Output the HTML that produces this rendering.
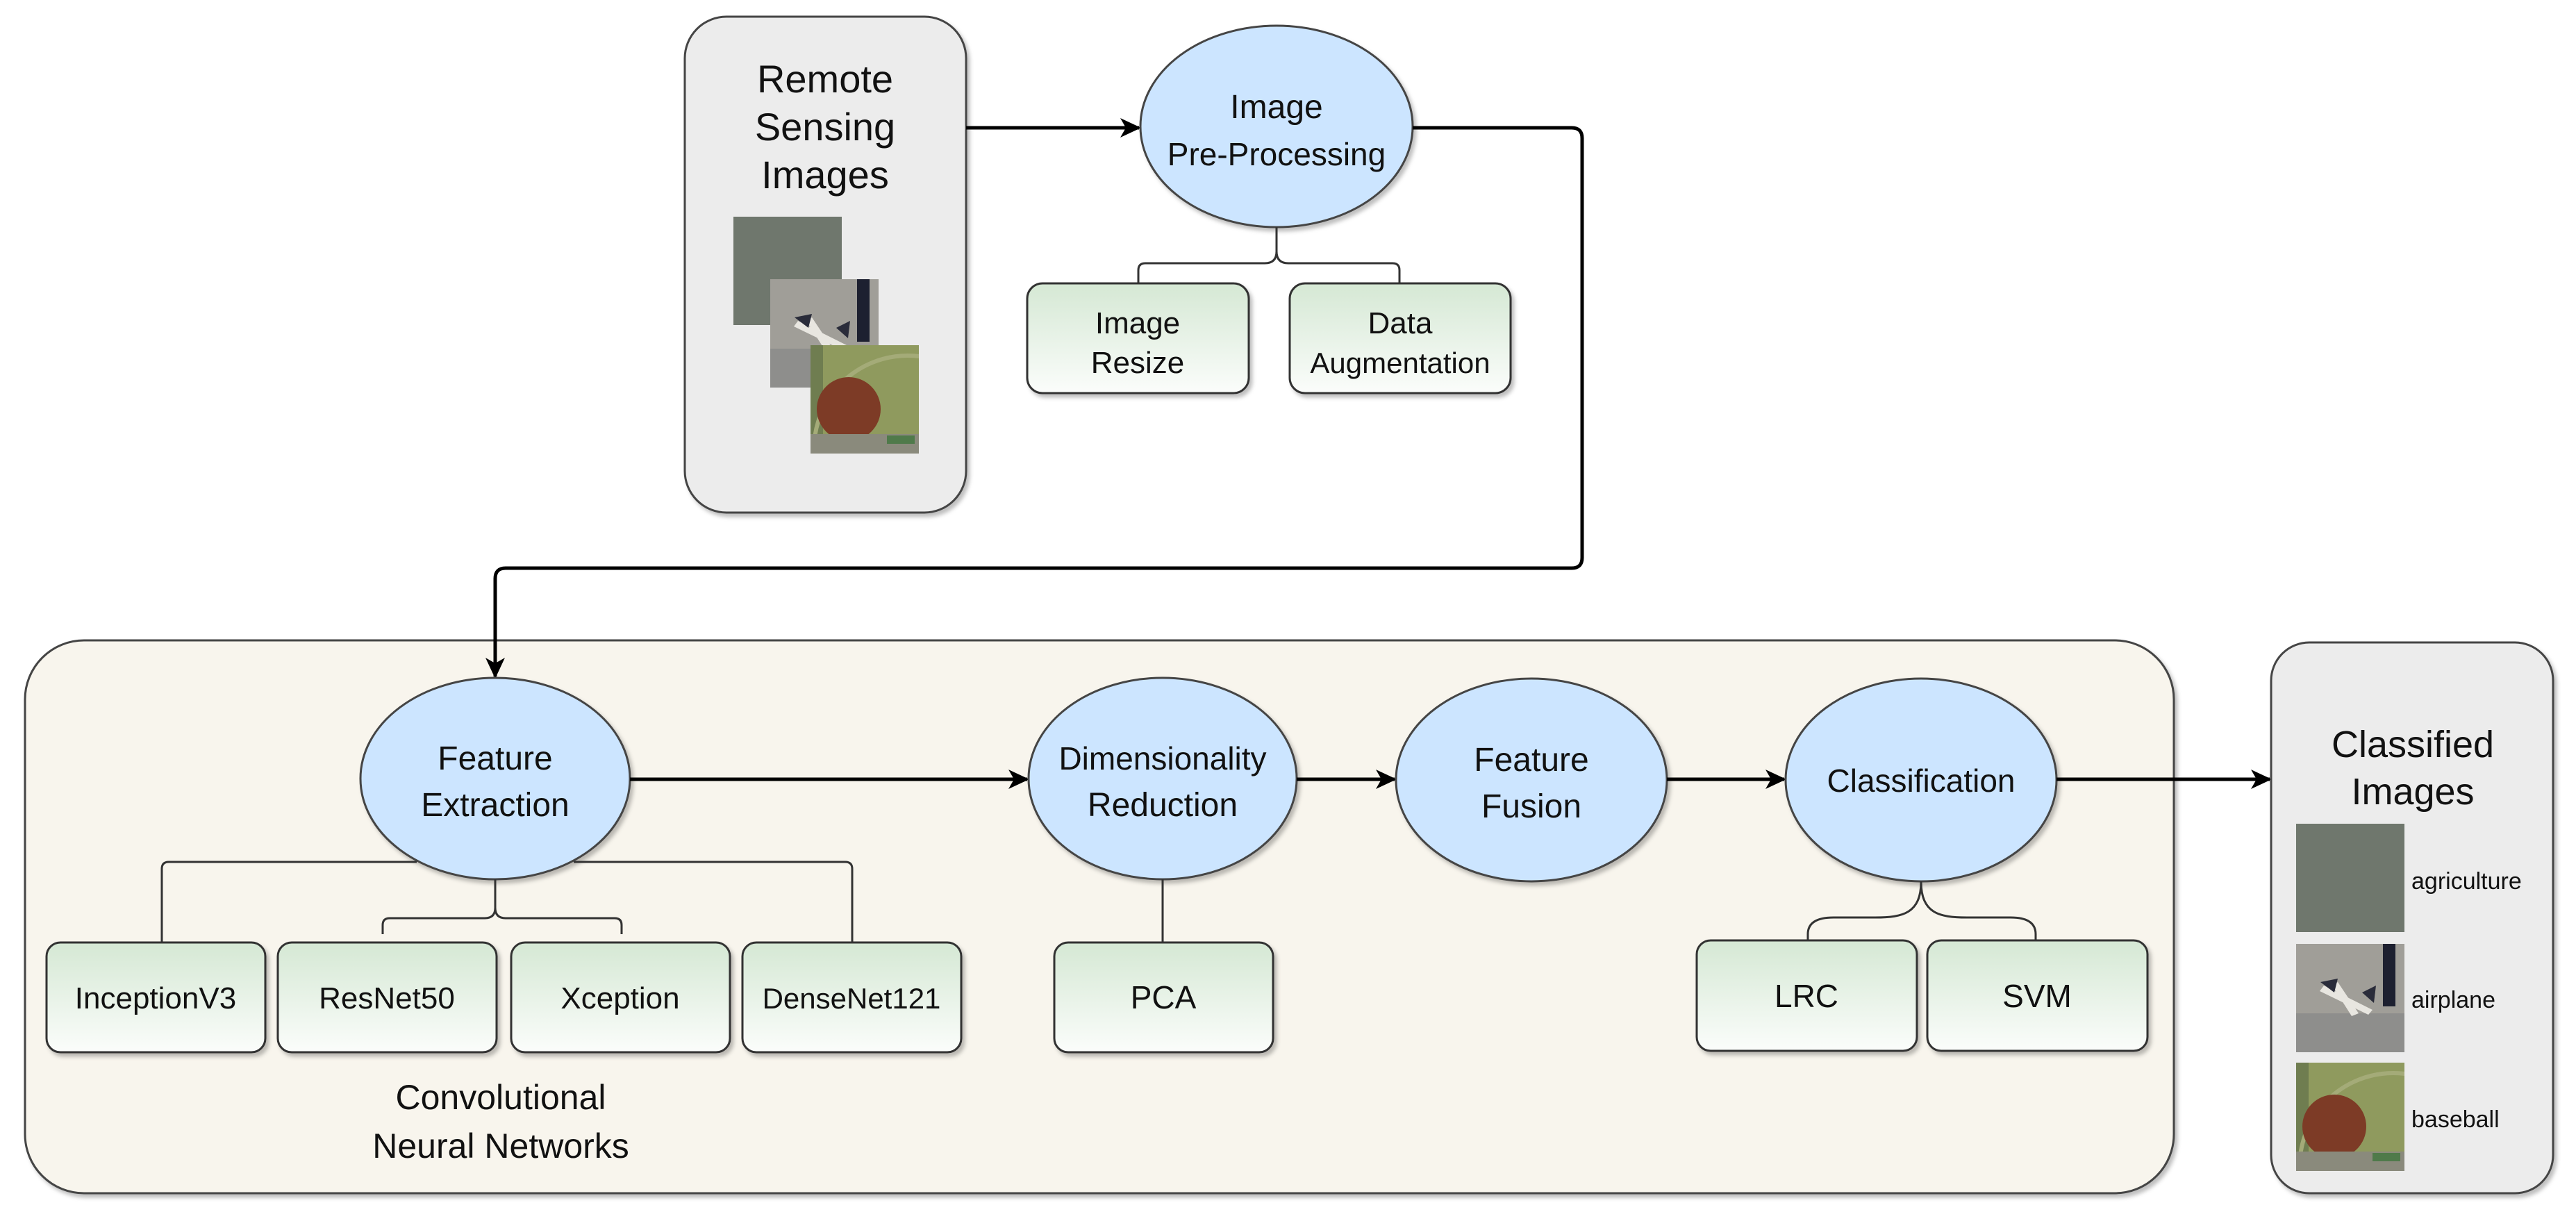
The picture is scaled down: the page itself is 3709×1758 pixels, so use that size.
<!DOCTYPE html>
<html><head><meta charset="utf-8"><style>
html,body{margin:0;padding:0;background:#fff}
svg{display:block}
text{font-family:"Liberation Sans",sans-serif;fill:#111;text-anchor:middle}
</style></head><body>
<svg width="3709" height="1758" viewBox="0 0 3709 1758" xmlns="http://www.w3.org/2000/svg">
<defs>
<linearGradient id="g" x1="0" y1="0" x2="0" y2="1"><stop offset="0" stop-color="#d5e8d4"/><stop offset="1" stop-color="#fbfdfb"/></linearGradient>
<marker id="a" markerWidth="30" markerHeight="28" refX="27" refY="14" orient="auto" markerUnits="userSpaceOnUse" viewBox="0 0 30 28"><path d="M0,0 L30,14 L0,28 L8,14 Z" fill="#000"/></marker>
<filter id="sh" x="-5%" y="-5%" width="115%" height="115%"><feDropShadow dx="4" dy="5" stdDeviation="3" flood-color="#000" flood-opacity="0.25"/></filter>
<clipPath id="c"><rect width="156" height="156"/></clipPath>
<g id="agri"><rect width="156" height="156" fill="#6f776d"/></g>
<g id="air" clip-path="url(#c)"><rect width="156" height="156" fill="#a09e98"/><rect x="125" y="0" width="18" height="90" fill="#1d2030"/><rect x="0" y="100" width="156" height="56" fill="#8e8e8c"/><path d="M40,60 L110,95 L104,102 L34,68 Z" fill="#e8e6e0"/><path d="M60,55 L90,100 L80,104 L52,60 Z" fill="#e8e6e0"/><path d="M35,55 L60,50 L55,70 Z" fill="#2a2c3a"/><path d="M95,70 L115,60 L112,85 Z" fill="#2a2c3a"/></g>
<g id="base" clip-path="url(#c)"><rect width="156" height="156" fill="#8f9a5e"/><rect x="0" y="0" width="18" height="156" fill="#6f7d50"/><circle cx="140" cy="150" r="135" fill="none" stroke="#a4ab78" stroke-width="6"/><circle cx="55" cy="92" r="46" fill="#7d3b26"/><rect x="0" y="128" width="156" height="28" fill="#8a8a7c"/><rect x="110" y="130" width="40" height="12" fill="#4f7a4a"/></g>
</defs>

<rect x="986" y="24" width="405" height="714" rx="60" fill="#ececec" stroke="#444" stroke-width="3" filter="url(#sh)"/>
<text x="1188" y="133" font-size="56">Remote</text>
<text x="1188" y="202" font-size="56">Sensing</text>
<text x="1188" y="271" font-size="56">Images</text>
<use href="#agri" x="1056" y="312"/>
<use href="#air" x="1109" y="402"/>
<use href="#base" x="1167" y="497"/>

<line x1="1391" y1="184" x2="1640" y2="184" stroke="#000" stroke-width="5" marker-end="url(#a)"/>
<ellipse cx="1838" cy="182" rx="196" ry="145" fill="#cce5ff" stroke="#444" stroke-width="3" filter="url(#sh)"/>
<text x="1838" y="170" font-size="48">Image</text>
<text x="1838" y="238" font-size="46">Pre-Processing</text>
<path d="M1838,327 L1838,362 Q1838,379 1821,379 L1649,379 Q1639,379 1639,389 L1639,408 M1838,362 Q1838,379 1855,379 L2005,379 Q2015,379 2015,389 L2015,408" fill="none" stroke="#333" stroke-width="3"/>
<rect x="1479" y="408" width="319" height="158" rx="22" fill="url(#g)" stroke="#333" stroke-width="3" filter="url(#sh)"/>
<text x="1638" y="480" font-size="44">Image</text>
<text x="1638" y="537" font-size="44">Resize</text>
<rect x="1857" y="408" width="318" height="158" rx="22" fill="url(#g)" stroke="#333" stroke-width="3" filter="url(#sh)"/>
<text x="2016" y="480" font-size="44">Data</text>
<text x="2016" y="537" font-size="42">Augmentation</text>

<rect x="36" y="922" width="3094" height="796" rx="85" fill="#f8f5ed" stroke="#444" stroke-width="3" filter="url(#sh)"/>

<path d="M2034,184 L2263,184 Q2278,184 2278,199 L2278,803 Q2278,818 2263,818 L728,818 Q713,818 713,833 L713,974" fill="none" stroke="#000" stroke-width="5" marker-end="url(#a)"/>

<ellipse cx="713" cy="1121" rx="194" ry="145" fill="#cce5ff" stroke="#444" stroke-width="3" filter="url(#sh)"/>
<text x="713" y="1108" font-size="48">Feature</text>
<text x="713" y="1175" font-size="48">Extraction</text>
<path d="M600,1241 L243,1241 Q233,1241 233,1251 L233,1357 M826,1241 L1217,1241 Q1227,1241 1227,1251 L1227,1357" fill="none" stroke="#333" stroke-width="3"/>
<path d="M713,1266 L713,1307 Q713,1322 698,1322 L561,1322 Q551,1322 551,1332 L551,1345 M713,1307 Q713,1322 728,1322 L885,1322 Q895,1322 895,1332 L895,1345" fill="none" stroke="#333" stroke-width="3"/>
<rect x="67" y="1357" width="315" height="158" rx="20" fill="url(#g)" stroke="#333" stroke-width="3" filter="url(#sh)"/>
<text x="224" y="1452" font-size="44">InceptionV3</text>
<rect x="400" y="1357" width="315" height="158" rx="20" fill="url(#g)" stroke="#333" stroke-width="3" filter="url(#sh)"/>
<text x="557" y="1452" font-size="44">ResNet50</text>
<rect x="736" y="1357" width="315" height="158" rx="20" fill="url(#g)" stroke="#333" stroke-width="3" filter="url(#sh)"/>
<text x="893" y="1452" font-size="44">Xception</text>
<rect x="1069" y="1357" width="315" height="158" rx="20" fill="url(#g)" stroke="#333" stroke-width="3" filter="url(#sh)"/>
<text x="1226" y="1452" font-size="42">DenseNet121</text>
<text x="721" y="1597" font-size="50">Convolutional</text>
<text x="721" y="1667" font-size="50">Neural Networks</text>

<line x1="907" y1="1122" x2="1479" y2="1122" stroke="#000" stroke-width="5" marker-end="url(#a)"/>
<ellipse cx="1674" cy="1121" rx="193" ry="145" fill="#cce5ff" stroke="#444" stroke-width="3" filter="url(#sh)"/>
<text x="1674" y="1108" font-size="46">Dimensionality</text>
<text x="1674" y="1175" font-size="48">Reduction</text>
<line x1="1674" y1="1266" x2="1674" y2="1357" stroke="#333" stroke-width="3"/>
<rect x="1518" y="1357" width="315" height="158" rx="20" fill="url(#g)" stroke="#333" stroke-width="3" filter="url(#sh)"/>
<text x="1675" y="1452" font-size="46">PCA</text>

<line x1="1867" y1="1122" x2="2008" y2="1122" stroke="#000" stroke-width="5" marker-end="url(#a)"/>
<ellipse cx="2205" cy="1123" rx="195" ry="146" fill="#cce5ff" stroke="#444" stroke-width="3" filter="url(#sh)"/>
<text x="2205" y="1110" font-size="48">Feature</text>
<text x="2205" y="1177" font-size="48">Fusion</text>

<line x1="2400" y1="1122" x2="2569" y2="1122" stroke="#000" stroke-width="5" marker-end="url(#a)"/>
<ellipse cx="2766" cy="1123" rx="195" ry="146" fill="#cce5ff" stroke="#444" stroke-width="3" filter="url(#sh)"/>
<text x="2766" y="1140" font-size="46">Classification</text>
<path d="M2766,1269 C2766,1315 2740,1321 2700,1321 L2640,1321 Q2603,1321 2603,1345 L2603,1354 M2766,1269 C2766,1315 2792,1321 2832,1321 L2895,1321 Q2931,1321 2931,1345 L2931,1354" fill="none" stroke="#333" stroke-width="3"/>
<rect x="2443" y="1354" width="317" height="159" rx="20" fill="url(#g)" stroke="#333" stroke-width="3" filter="url(#sh)"/>
<text x="2601" y="1450" font-size="46">LRC</text>
<rect x="2775" y="1354" width="317" height="159" rx="20" fill="url(#g)" stroke="#333" stroke-width="3" filter="url(#sh)"/>
<text x="2933" y="1450" font-size="46">SVM</text>

<line x1="2961" y1="1122" x2="3268" y2="1122" stroke="#000" stroke-width="5" marker-end="url(#a)"/>
<rect x="3270" y="925" width="406" height="793" rx="55" fill="#ececec" stroke="#444" stroke-width="3" filter="url(#sh)"/>
<text x="3474" y="1090" font-size="54">Classified</text>
<text x="3474" y="1158" font-size="54">Images</text>
<use href="#agri" x="3306" y="1186"/>
<use href="#air" x="3306" y="1359"/>
<use href="#base" x="3306" y="1530"/>
<text x="3472" y="1280" font-size="34" style="text-anchor:start">agriculture</text>
<text x="3472" y="1451" font-size="34" style="text-anchor:start">airplane</text>
<text x="3472" y="1623" font-size="34" style="text-anchor:start">baseball</text>
</svg>
</body></html>
